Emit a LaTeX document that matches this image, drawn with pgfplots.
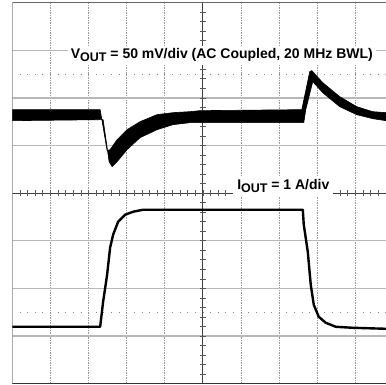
\documentclass[border=0pt]{standalone}
\usepackage{fontspec}
\setmainfont{Liberation Sans}
\usepackage{pgfplots}
\pgfplotsset{compat=1.18}
\begin{document}
\begin{tikzpicture}
\useasboundingbox (-12.3pt,-1pt) rectangle (374pt,384pt);
\begin{axis}[at={(0,0)},anchor=south west, scale only axis, width=374pt, height=381.3pt,
  xmin=0, xmax=9.8, ymin=-4, ymax=4, hide axis, clip=true]
% vertical dashed grid
\pgfplotsinvokeforeach{1,2,3,4,6,7,8,9}{\draw[black!40, line width=0.7pt, dash pattern=on 1.5pt off 1pt] (axis cs:#1,-4) -- (axis cs:#1,4);}
% horizontal solid grid
\pgfplotsinvokeforeach{-3,-2,-1,1,2,3}{\draw[black!28, line width=1.3pt] (axis cs:0,#1) -- (axis cs:9.8,#1);}
% dotted lines
\pgfplotsinvokeforeach{-2.5,2.5}{\draw[black!45, line width=0.9pt, dash pattern=on 0.9pt off 6.73pt] (axis cs:0.19,#1) -- (axis cs:9.8,#1);}
% center lines
\draw[black!75, line width=1pt] (axis cs:0,0) -- (axis cs:9.8,0);
\draw[black!75, line width=1pt] (axis cs:5,-4) -- (axis cs:5,4);
\pgfplotsinvokeforeach{0.2,0.4,...,9.7}{\draw[black!65, line width=0.8pt] (axis cs:#1,-0.06) -- (axis cs:#1,0.06);}
\pgfplotsinvokeforeach{-3.8,-3.6,...,3.9}{\draw[black!65, line width=0.8pt] (axis cs:4.92,#1) -- (axis cs:5.08,#1);}
% borders
\draw[black!50, line width=1.4pt] (axis cs:0,-4) -- (axis cs:0,4);
\draw[black!60, line width=1.4pt] (axis cs:0,4) -- (axis cs:9.8,4);
\draw[black!80, line width=1.6pt] (axis cs:0,-4) -- (axis cs:9.8,-4);
% V_OUT band
\addplot[fill=black, draw=black, line width=0.6pt, line join=round] coordinates {
(0,1.754) (2.304,1.754) (2.487,0.893) (2.565,0.914) (2.749,1.124) (3.010,1.334) (3.351,1.502)
(3.796,1.649) (4.215,1.691) (4.660,1.712) (4.921,1.733) (7.592,1.754) (7.801,2.553) (7.853,2.574)
(8.141,2.321) (8.586,2.027) (9.031,1.817) (9.450,1.712) (9.800,1.691)
(9.800,1.523) (9.450,1.565) (9.031,1.649) (8.586,1.817) (8.141,2.111) (7.880,2.342) (7.696,1.754)
(7.644,1.481) (4.921,1.481) (4.660,1.481) (4.215,1.439) (3.796,1.334) (3.351,1.166) (3.010,0.914)
(2.749,0.662) (2.618,0.557) (2.539,0.662) (2.382,1.544) (0,1.523)
} -- cycle;
% I_OUT trace
\addplot[black, line width=2.4pt, line join=round] coordinates {
(0,-2.805) (2.304,-2.805) (2.382,-2.279) (2.487,-1.712) (2.565,-1.145) (2.644,-0.872) (2.775,-0.599)
(2.958,-0.452) (3.168,-0.389) (3.429,-0.347) (7.618,-0.347) (7.644,-0.662) (7.749,-1.229)
(7.827,-1.922) (7.906,-2.342) (8.037,-2.595) (8.220,-2.721) (8.482,-2.805) (8.927,-2.826) (9.800,-2.847)
};
% labels
\node[fill=white, inner xsep=3pt, inner ysep=3pt, font=\fontsize{14}{16}\selectfont\bfseries] at (axis cs:5.495,2.894)
  {V\raisebox{-3pt}{\fontsize{12.5}{13}\selectfont OUT} = 50 mV/div (AC Coupled, 20 MHz BWL)};
\node[fill=white, inner xsep=4pt, inner ysep=3pt, font=\fontsize{14}{16}\selectfont\bfseries] at (axis cs:7.107,0.146)
  {I\raisebox{-3pt}{\fontsize{12.5}{13}\selectfont OUT} = 1 A/div};
\end{axis}
\end{tikzpicture}
\end{document}
